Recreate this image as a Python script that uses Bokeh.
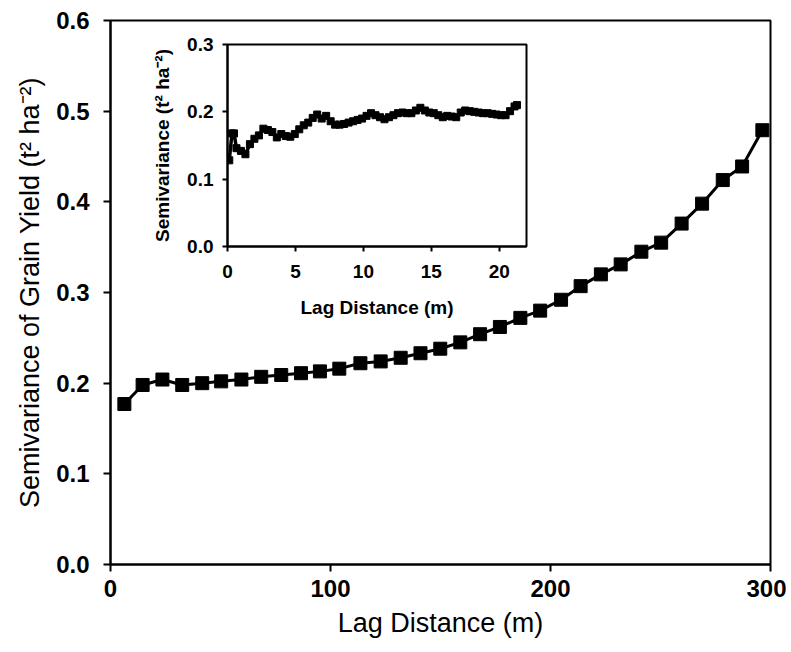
from bokeh.plotting import figure
from bokeh.models import Range1d, FixedTicker, PrintfTickFormatter, ColumnDataSource
from bokeh.layouts import column
from bokeh.embed import file_html
from bokeh.resources import INLINE

# ---------------- data ----------------
lag_main = [6.3, 14.6, 23.6, 32.6, 41.7, 50.3, 59.5, 68.5, 77.6, 86.6, 95.2,
            104.0, 113.6, 122.8, 131.9, 140.9, 149.9, 159.0, 168.0, 177.0,
            186.3, 195.3, 204.8, 213.7, 222.9, 231.9, 241.3, 250.3, 259.6,
            268.9, 278.3, 287.1, 296.3]
semivar_main = [0.177, 0.198, 0.204, 0.198, 0.200, 0.202, 0.204, 0.207, 0.209,
                0.211, 0.213, 0.216, 0.222, 0.224, 0.228, 0.233, 0.238, 0.245,
                0.254, 0.262, 0.272, 0.280, 0.292, 0.307, 0.320, 0.331, 0.345,
                0.355, 0.376, 0.398, 0.424, 0.439, 0.479]

lag_inset = [0.13, 0.33, 0.48, 0.66, 0.99, 1.32, 1.65, 1.98, 2.31, 2.64, 2.97,
             3.30, 3.63, 3.96, 4.29, 4.62, 4.95, 5.28, 5.61, 5.94, 6.27, 6.60,
             6.93, 7.26, 7.59, 7.92, 8.25, 8.58, 8.91, 9.24, 9.57, 9.90, 10.23,
             10.56, 10.89, 11.22, 11.55, 11.88, 12.21, 12.54, 12.87, 13.20,
             13.53, 13.86, 14.19, 14.52, 14.85, 15.18, 15.51, 15.84, 16.17,
             16.50, 16.83, 17.16, 17.49, 17.82, 18.15, 18.48, 18.81, 19.14,
             19.47, 19.80, 20.13, 20.46, 20.79, 21.12, 21.30]
semivar_inset = [0.128, 0.168, 0.168, 0.146, 0.142, 0.137, 0.152, 0.160, 0.165,
                 0.175, 0.173, 0.170, 0.162, 0.167, 0.164, 0.163, 0.167, 0.174,
                 0.180, 0.184, 0.191, 0.196, 0.190, 0.194, 0.186, 0.181, 0.181,
                 0.182, 0.184, 0.186, 0.188, 0.190, 0.194, 0.198, 0.195, 0.192,
                 0.189, 0.192, 0.195, 0.198, 0.199, 0.198, 0.198, 0.202, 0.206,
                 0.202, 0.199, 0.198, 0.195, 0.192, 0.194, 0.193, 0.192, 0.199,
                 0.202, 0.201, 0.200, 0.199, 0.198, 0.198, 0.197, 0.196, 0.195,
                 0.195, 0.201, 0.208, 0.210]

main_x_ticks = [0, 100, 200, 300]
main_y_ticks = [0.0, 0.1, 0.2, 0.3, 0.4, 0.5, 0.6]
inset_x_ticks = [0, 5, 10, 15, 20]
inset_y_ticks = [0.0, 0.1, 0.2, 0.3]

main_x_title = "Lag Distance (m)"
main_y_title = "Semivariance of Grain Yield (t\u00b2 ha\u207b\u00b2)"
inset_x_title = "Lag Distance (m)"
inset_y_title = "Semivariance (t\u00b2 ha\u207b\u00b2)"

FONT = "Liberation Sans"


def style(p, xt, yt, tick_size, title_size, title_style, tick_out,
          x_stand, y_stand, x_title_stand, y_title_stand, axis_w):
    p.xgrid.visible = False
    p.ygrid.visible = False
    p.xaxis.ticker = FixedTicker(ticks=xt)
    p.yaxis.ticker = FixedTicker(ticks=yt)
    p.yaxis.formatter = PrintfTickFormatter(format="%.1f")
    for ax in (p.xaxis, p.yaxis):
        ax.major_tick_in = 0
        ax.major_tick_out = tick_out
        ax.minor_tick_line_color = None
        ax.axis_line_width = axis_w
        ax.axis_line_color = "black"
        ax.major_tick_line_width = axis_w
        ax.major_tick_line_color = "black"
        ax.major_label_text_font = FONT
        ax.major_label_text_font_size = f"{tick_size}px"
        ax.major_label_text_font_style = "bold"
        ax.major_label_text_color = "black"
        ax.axis_label_text_font = FONT
        ax.axis_label_text_font_size = f"{title_size}px"
        ax.axis_label_text_font_style = title_style
        ax.axis_label_text_color = "black"
    p.xaxis.major_label_standoff = x_stand
    p.yaxis.major_label_standoff = y_stand
    p.xaxis.axis_label_standoff = x_title_stand
    p.yaxis.axis_label_standoff = y_title_stand
    p.outline_line_color = "black"
    p.outline_line_width = axis_w


# ---------------- main plot ----------------
p = figure(width=786, height=648, x_range=Range1d(0, 300), y_range=Range1d(0, 0.6),
           output_backend="svg", toolbar_location=None,
           min_border_left=107, min_border_right=16, min_border_top=20,
           min_border_bottom=84)
style(p, main_x_ticks, main_y_ticks, 24, 27, "normal", 7, 8, 14, 8, 8, 2)
p.xaxis.axis_label = main_x_title
p.yaxis.axis_label = main_y_title

src_main = ColumnDataSource(dict(x=lag_main, y=semivar_main))
p.line("x", "y", source=src_main, line_color="black", line_width=3)
p.scatter("x", "y", source=src_main, marker="square", size=13,
          fill_color="black", line_color="black")

# ---------------- inset plot ----------------
inset = figure(width=425, height=296, x_range=Range1d(0, 22), y_range=Range1d(0, 0.3),
               output_backend="svg", toolbar_location=None,
               min_border_left=110, min_border_right=8, min_border_top=14,
               min_border_bottom=80, border_fill_alpha=0,
               background_fill_color="white",
               styles={"position": "absolute", "left": "117px", "top": "30px"})
style(inset, inset_x_ticks, inset_y_ticks, 19, 19, "bold", 5, 13, 9, 16, 11, 2)
inset.xaxis.axis_label = inset_x_title
inset.yaxis.axis_label = inset_y_title

src_inset = ColumnDataSource(dict(x=lag_inset, y=semivar_inset))
inset.line("x", "y", source=src_inset, line_color="black", line_width=3.5)
inset.scatter("x", "y", source=src_inset, marker="square", size=7,
              fill_color="black", line_color="black")

layout = column(p, inset, styles={"position": "relative"})

open("out.html", "w").write(file_html(layout, INLINE))
